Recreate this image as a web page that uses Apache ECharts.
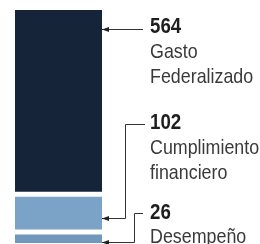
<!DOCTYPE html>
<html>
<head>
<meta charset="utf-8">
<script src="https://cdn.jsdelivr.net/npm/echarts@6/dist/echarts.min.js"></script>
<style>
  html, body { margin: 0; padding: 0; background: #ffffff; }
  #main { width: 260px; height: 244px; }
</style>
</head>
<body>
<div id="main"></div>
<script>
// segmentos de arriba hacia abajo
var names = ['Gasto\nFederalizado', 'Cumplimiento\nfinanciero', 'Desempeño']
var values = [564, 102, 26]
var colors = ['#16243a', '#7ba3c8', '#7097bc']

var font = "'Liberation Sans', Arial, sans-serif"
var gap = 5

var chart = echarts.init(document.getElementById('main'), null, { width: 260, height: 244 })

var starts = []
var acc = 0
values.forEach(function (v) {
  starts.push(acc)
  acc += v
})
var data = values.map(function (v, i) {
  return [0, starts[i], starts[i] + v]
})

function renderItem(params, api) {
  var i = params.dataIndex
  var p0 = api.coord([0, api.value(1)])
  var p1 = api.coord([0, api.value(2)])
  var w = api.size([1, 0])[0]
  return {
    type: 'rect',
    shape: { x: p0[0] - w / 2, y: p0[1] + i * gap, width: w, height: p1[1] - p0[1] },
    style: { fill: colors[i] }
  }
}

// texto estrecho: se comprime en horizontal
function label(i, x, y) {
  return {
    type: 'text',
    x: x,
    y: y,
    scaleX: 0.85,
    style: {
      text: '{n|' + values[i] + '}\n' + names[i].split('\n').map(function (s) { return '{l|' + s + '}' }).join('\n'),
      verticalAlign: 'top',
      rich: {
        n: { fontFamily: font, fontSize: 22, fontWeight: 'bold', fill: '#1e1e1e', lineHeight: 25 },
        l: { fontFamily: font, fontSize: 21, fill: '#3a3a3a', lineHeight: 25 }
      }
    }
  }
}

function leader(points) {
  var end = points[points.length - 1]
  return [{
    type: 'polyline',
    shape: { points: points },
    style: { stroke: '#333333', lineWidth: 1, fill: null }
  }, {
    type: 'polygon',
    shape: { points: [[end[0], end[1]], [end[0] + 7, end[1] - 2.5], [end[0] + 7, end[1] + 2.5]] },
    style: { fill: '#222222' }
  }]
}

var graphics = []
  .concat(leader([[143, 29.5], [102, 29.5]]))
  .concat(leader([[145, 124.5], [125.5, 124.5], [125.5, 218.5], [102, 218.5]]))
  .concat(leader([[143, 213.5], [134.5, 213.5], [134.5, 242.5], [102, 242.5]]))
  .concat([label(0, 150, 14.5), label(1, 150, 110.5), label(2, 150, 200)])

var option = {
  animation: false,
  backgroundColor: '#ffffff',
  grid: { left: 15, width: 87, top: 10, bottom: 11 },
  xAxis: { type: 'category', data: [''], show: false },
  yAxis: { type: 'value', inverse: true, min: 0, max: acc, show: false },
  series: [{
    type: 'custom',
    renderItem: renderItem,
    data: data,
    clip: false
  }],
  graphic: graphics
}

chart.setOption(option)
</script>
</body>
</html>
